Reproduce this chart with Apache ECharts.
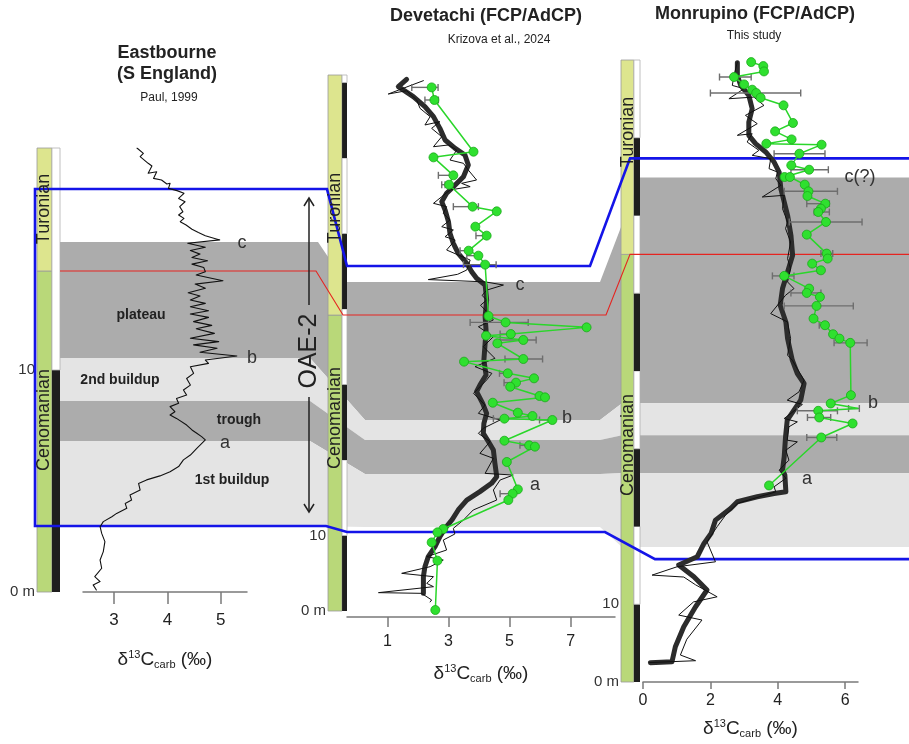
<!DOCTYPE html>
<html><head><meta charset="utf-8">
<script src="https://cdn.jsdelivr.net/npm/echarts@6/dist/echarts.min.js"></script>
<style>html,body{margin:0;padding:0;background:#fff}#c{width:909px;height:744px}</style>
</head><body><div id="c"></div>
<script>
// ================= DATA =================
// [δ13C (‰), height (m)]
const eastbourneCurve = [[3.43,20.0],[3.55,19.76],[3.49,19.61],[3.64,19.31],[3.71,19.19],[3.64,18.86],[3.80,18.93],[3.74,18.63],[3.89,18.56],[3.99,18.38],[4.05,18.41],[4.02,18.18],[4.18,18.08],[4.31,17.96],[4.21,17.73],[4.33,17.58],[4.23,17.36],[4.29,17.13],[4.21,16.98],[4.31,16.83],[4.24,16.68],[4.35,16.53],[4.46,16.34],[4.58,16.19],[4.71,16.05],[4.98,15.86],[4.38,15.71],[4.71,15.53],[4.43,15.38],[4.61,15.22],[4.46,15.07],[4.75,14.92],[4.46,14.77],[4.68,14.62],[4.71,14.43],[4.54,14.28],[5.04,14.02],[4.52,13.87],[4.71,13.68],[4.39,13.48],[4.61,13.33],[4.43,13.15],[4.71,13.0],[4.43,12.85],[4.77,12.67],[4.43,12.52],[4.77,12.37],[4.49,12.18],[4.83,12.01],[4.54,11.86],[4.88,11.65],[4.43,11.43],[4.96,11.28],[4.49,11.13],[4.93,10.98],[4.61,10.8],[5.30,10.63],[4.71,10.45],[4.77,10.3],[4.43,10.15],[4.49,9.85],[4.36,9.62],[4.43,9.32],[4.30,9.10],[4.36,8.87],[4.17,8.72],[4.21,8.50],[4.05,8.35],[4.14,8.12],[4.05,7.97],[4.17,7.82],[4.36,7.52],[4.46,7.30],[4.55,7.15],[4.64,7.00],[4.71,6.85],[4.55,6.47],[4.43,6.17],[4.30,5.95],[4.21,5.65],[4.05,5.42],[3.86,5.23],[3.61,5.05],[3.46,4.89],[3.49,4.59],[3.30,4.37],[3.33,4.14],[3.21,3.99],[3.24,3.77],[3.05,3.54],[2.96,3.39],[2.80,3.17],[2.74,2.94],[2.77,2.64],[2.83,2.27],[2.80,1.82],[2.74,1.44],[2.77,1.07],[2.64,0.69],[2.74,0.47],[2.61,0.32],[2.67,0.09]];

const devetachiRaw = [[2.18,70.25],[1.80,69.67],[1.03,68.48],[1.63,68.92],[1.96,67.69],[2.07,66.58],[2.40,65.48],[2.23,64.38],[2.72,64.82],[2.45,63.93],[2.78,62.83],[2.51,61.50],[3.00,61.73],[3.27,61.06],[3.05,59.74],[3.49,59.30],[3.65,58.41],[3.92,57.09],[3.43,56.65],[3.71,56.21],[3.05,55.77],[2.78,54.88],[2.51,54.00],[2.94,53.56],[2.83,52.67],[3.05,51.79],[2.78,50.91],[3.16,50.47],[2.89,49.58],[3.22,49.14],[2.94,47.82],[3.32,47.16],[3.71,46.49],[3.60,45.17],[3.30,44.6],[2.34,43.9],[4.20,43.6],[4.80,43.18],[4.25,42.5],[4.10,41.8],[4.25,41.2],[4.05,40.5],[4.20,39.87],[4.47,38.55],[3.98,37.66],[4.47,36.34],[4.14,35.01],[4.52,33.47],[3.87,32.37],[4.42,31.48],[4.25,30.60],[3.82,28.83],[4.20,27.28],[3.98,26.18],[4.69,25.30],[4.14,24.20],[3.98,23.53],[4.36,22.43],[4.03,20.88],[4.47,20.22],[4.20,18.23],[5.12,18.01],[4.69,17.35],[4.47,16.03],[4.58,14.70],[3.81,13.38],[3.49,12.05],[3.16,10.95],[3.21,10.20],[2.83,9.40],[2.94,8.08],[2.29,7.20],[2.83,6.75],[2.40,5.87],[1.47,4.99],[2.51,4.55],[2.29,3.66],[2.51,3.22],[0.71,2.43],[2.12,2.34],[2.45,1.46],[2.40,1.2]];

const devetachiSmooth = [[1.63,70.42],[1.36,69.45],[1.85,68.13],[2.23,66.8],[2.51,65.48],[2.72,63.93],[2.89,62.39],[3.22,61.28],[3.54,60.4],[3.65,59.08],[3.49,57.53],[3.22,56.43],[2.94,55.33],[2.78,54.22],[2.89,53.12],[3.0,51.57],[3.05,50.03],[3.16,48.7],[3.32,47.37],[3.6,46.05],[3.76,44.95],[3.92,44.07],[4.2,43.18],[4.25,41.2],[4.2,38.99],[4.23,37.22],[4.2,35.45],[4.16,33.25],[4.23,31.26],[4.03,29.93],[3.92,29.05],[4.12,27.5],[4.25,26.18],[4.16,24.86],[4.14,23.53],[4.31,22.43],[4.47,21.32],[4.52,19.56],[4.58,17.79],[4.41,16.91],[4.03,15.81],[3.6,14.7],[3.32,13.38],[3.11,12.05],[2.89,10.95],[2.72,9.85],[2.56,8.52],[2.34,7.2],[2.23,5.87],[2.18,4.55],[2.18,2.34]];

const devetachiGreen = [[2.45,69.36],[2.54,67.69],[3.82,60.84],[2.51,60.09],[3.16,57.71],[3.02,56.47],[3.79,53.56],[4.58,52.94],[3.88,50.91],[4.25,49.72],[3.66,47.73],[3.98,47.07],[4.20,45.88],[4.31,39.08],[4.87,38.23],[7.52,37.57],[5.04,36.69],[4.23,36.47],[5.45,35.90],[4.60,35.46],[5.45,33.38],[3.51,33.03],[4.94,31.48],[5.80,30.82],[5.21,30.25],[5.02,29.71],[5.98,28.48],[6.16,28.30],[4.45,27.59],[5.27,26.27],[5.75,25.83],[4.83,25.48],[6.40,25.30],[4.83,22.56],[5.64,21.94],[5.83,21.77],[4.91,19.74],[5.27,16.11],[5.10,15.54],[4.96,14.70],[2.83,10.86],[2.64,10.42],[2.45,9.09],[2.64,6.67],[2.57,0.13]];

// [low, high, height]
const devetachiGreenErr = [[1.80,2.66,69.36],[2.23,2.67,67.69],[2.67,3.22,57.71],[2.78,2.89,56.47],[3.16,3.98,53.56],[3.90,4.25,49.72],[3.38,3.71,47.73],[3.60,3.98,47.07],[3.49,4.56,45.88],[3.71,5.61,38.23],[4.69,5.04,36.69],[4.69,5.87,35.90],[4.85,6.08,33.38],[4.67,4.96,31.48],[4.82,5.23,30.25],[4.47,4.83,25.48],[5.98,6.40,25.30],[5.34,5.64,21.94],[4.69,5.10,15.54]];

const monrupinoRaw = [[2.80,79.73],[2.70,78.02],[2.65,76.73],[3.00,76.31],[2.55,75.02],[3.29,75.23],[3.59,74.16],[3.04,72.88],[3.39,71.81],[2.80,70.31],[3.24,70.52],[3.09,69.45],[3.44,68.38],[3.24,67.74],[3.79,67.31],[3.74,66.02],[3.99,65.59],[3.94,64.74],[4.09,63.88],[3.54,62.38],[4.19,62.60],[4.14,60.88],[4.29,59.17],[4.23,58.31],[4.38,56.60],[4.29,54.45],[4.38,53.17],[4.29,51.45],[4.48,50.60],[4.23,49.74],[3.79,47.38],[4.29,46.31],[4.38,44.17],[4.29,42.03],[4.43,41.39],[4.78,38.82],[4.63,37.32],[4.28,36.25],[4.73,35.70],[4.19,33.89],[4.58,33.46],[4.33,32.82],[4.28,31.10],[4.58,30.89],[4.24,29.82],[4.33,28.53],[4.04,27.25],[4.24,26.20],[3.89,25.11],[3.94,24.46],[2.80,22.96],[2.45,21.47],[2.20,19.97],[1.90,18.04],[2.15,15.46],[1.01,14.82],[0.27,13.75],[1.21,13.50],[1.56,12.50],[2.20,10.96],[1.50,10.30],[1.06,8.61],[1.75,7.97],[1.30,5.50],[1.11,3.47],[1.56,2.74],[0.20,2.50]];

const monrupinoSmooth = [[2.8,79.65],[2.8,78.02],[2.9,76.73],[3.14,75.45],[3.24,73.73],[3.14,72.02],[3.14,70.31],[3.34,69.24],[3.64,68.17],[3.89,66.88],[4.04,65.59],[4.09,63.45],[4.19,61.74],[4.29,60.03],[4.39,57.45],[4.44,54.88],[4.29,52.74],[4.14,50.6],[4.07,48.45],[4.24,46.31],[4.29,44.17],[4.43,41.39],[4.58,39.68],[4.78,38.39],[4.68,36.25],[4.48,34.96],[4.28,33.68],[4.23,31.53],[4.19,28.96],[4.14,27.25],[4.21,26.61],[4.24,24.46],[3.89,24.25],[3.39,23.82],[2.8,23.18],[2.6,22.32],[2.15,20.82],[2.02,19.11],[1.81,17.82],[1.61,16.11],[1.06,15.04],[1.51,13.54],[1.9,11.83],[1.56,9.68],[1.21,7.11],[0.96,4.54],[0.86,2.61],[0.22,2.49]];

const monrupinoGreen = [[3.21,79.73],[3.57,79.22],[3.59,78.53],[2.70,77.81],[3.00,76.86],[3.24,76.18],[3.36,75.75],[3.49,75.15],[4.17,74.17],[4.45,71.90],[3.92,70.82],[4.41,69.79],[3.66,69.24],[5.30,69.11],[4.64,67.95],[4.40,66.45],[4.93,65.89],[4.20,64.95],[4.36,64.95],[4.80,63.97],[4.91,63.11],[4.88,62.51],[5.41,61.52],[5.28,60.88],[5.20,60.45],[5.43,59.17],[4.86,57.54],[5.45,55.10],[5.48,54.46],[5.02,53.81],[5.28,52.95],[4.19,52.23],[4.93,50.60],[4.86,50.04],[5.25,49.53],[5.15,48.37],[5.06,46.74],[5.40,45.89],[5.64,44.73],[5.83,44.17],[6.15,43.62],[6.17,36.89],[5.57,35.82],[6.39,35.18],[5.20,34.88],[5.23,34.02],[6.22,33.25],[5.29,31.45],[3.74,25.28]];

const monrupinoGreenErr = [[2.27,3.21,77.81],[2.00,4.68,75.75],[3.89,5.40,67.95],[4.39,5.50,65.89],[4.19,5.77,63.11],[4.86,5.53,61.52],[5.08,5.53,60.45],[4.34,6.50,59.17],[5.28,5.63,55.10],[5.18,5.33,52.95],[3.84,4.48,52.23],[4.39,5.28,50.04],[4.19,6.24,48.37],[5.23,5.48,45.89],[5.67,6.65,43.62],[6.10,6.42,35.18],[4.58,5.77,34.88],[4.88,5.57,34.02],[4.86,5.75,31.45]];

// stages [name, base (m), top (m)]
const eastbourneStages = [['Cenomanian',0,14.46],['Turonian',14.46,20]];
const devetachiStages  = [['Cenomanian',0,39.2],['Turonian',39.2,71]];
const monrupinoStages  = [['Cenomanian',0,55.0],['Turonian',55.0,80]];
const sectionThickness = [20, 71, 80];

// x-axis tick labels (‰) and ranges
const eastbourneTicks = [3,4,5];
const devetachiTicks  = [1,3,5,7];
const monrupinoTicks  = [0,2,4,6];
const xRanges = [[2.42,5.49],[-0.32,8.45],[0,6.38]];

// correlation levels: heights (m) at [Eastbourne, Devetachi, Monrupino]
const oaeTop          = [18.15, 45.7, 67.35];
const plateauTop      = [15.77, 43.58, 64.9];
const stageBoundary   = [14.46, 39.2, 55.0];
const plateauBase     = [10.54, 25.3, 35.86];
const buildup2Base    = [8.60, 22.65, 31.75];
const troughBase      = [6.80, 18.15, 26.86];
const buildup1Base    = [2.97, 11.13, 17.35];
const oaeBase         = [2.97, 10.46, 15.81];

// ================= LAYOUT / STYLE =================
const FONT = '"Liberation Sans", Arial, Helvetica, sans-serif';
const TXT = '#222';
const layout = [
  {curve:{left:83, top:148, width:164, height:444}, col:{left:37, width:23}, frac:0.65, offset:0, tickLen:12, labelSize:17, labelMargin:20, nameGap:57, stages:eastbourneStages, ticks:eastbourneTicks},
  {curve:{left:347, top:75, width:268, height:536}, col:{left:328, width:19}, frac:0.74, offset:6, tickLen:10, labelSize:16, labelMargin:17, nameGap:46, stages:devetachiStages, ticks:devetachiTicks},
  {curve:{left:643, top:60, width:215, height:622}, col:{left:621, width:19}, frac:0.68, offset:0, tickLen:7, labelSize:16, labelMargin:11, nameGap:36, stages:monrupinoStages, ticks:monrupinoTicks}
];
const COL_FILL = ['#dde58e', '#b9d879', '#1e1e1e', '#ffffff'];
const COL_STROKE = ['#9a9a9a', '#9a9a9a', '#1e1e1e', '#b0b0b0'];

function columnData(stages, top, frac) {
  const out = [];
  stages.forEach(s => out.push([0, frac, s[1], s[2], s[0] === 'Turonian' ? 0 : 1]));
  for (let d = 0; d < top; d += 10) out.push([frac, 1, d, Math.min(d + 10, top), (d / 10) % 2 === 0 ? 2 : 3]);
  return out;
}
function renderColumn(params, api) {
  const a = api.coord([api.value(0), api.value(3)]);
  const b = api.coord([api.value(1), api.value(2)]);
  const k = api.value(4);
  return {type:'rect', shape:{x:a[0], y:a[1], width:b[0]-a[0], height:b[1]-a[1]},
    style:{fill:COL_FILL[k], stroke:COL_STROKE[k], lineWidth:k === 2 ? 0 : 0.8}};
}
function renderErr(params, api) {
  const lo = api.coord([api.value(0), api.value(2)]);
  const hi = api.coord([api.value(1), api.value(2)]);
  const h = 3.5, st = {stroke:'#6e6e6e', lineWidth:1.4};
  return {type:'group', children:[
    {type:'line', shape:{x1:lo[0], y1:lo[1], x2:hi[0], y2:hi[1]}, style:st},
    {type:'line', shape:{x1:lo[0], y1:lo[1]-h, x2:lo[0], y2:lo[1]+h}, style:st},
    {type:'line', shape:{x1:hi[0], y1:hi[1]-h, x2:hi[0], y2:hi[1]+h}, style:st}
  ]};
}

const axisName = '{n|δ}{s|13}{n|C}{b|carb}{n| (‰)}';
const nameRich = {
  n:{fontSize:19, fontFamily:FONT, color:TXT},
  s:{fontSize:11, fontFamily:FONT, color:TXT, padding:[0,0,11,0]},
  b:{fontSize:11, fontFamily:FONT, color:TXT, padding:[9,0,0,0]}
};

const grids = [], xAxes = [], yAxes = [], series = [];
layout.forEach((s, i) => {
  const top = sectionThickness[i];
  grids.push({left:s.curve.left, top:s.curve.top, width:s.curve.width, height:s.curve.height});
  grids.push({left:s.col.left, top:s.curve.top, width:s.col.width, height:s.curve.height});
  xAxes.push({gridIndex:2*i, type:'value', min:xRanges[i][0], max:xRanges[i][1], position:'bottom', offset:s.offset,
    axisLine:{show:true, onZero:false, lineStyle:{color:'#7a7a7a', width:1.5}},
    axisTick:{show:true, customValues:s.ticks, length:s.tickLen, lineStyle:{color:'#7a7a7a', width:1.5}},
    axisLabel:{show:true, customValues:s.ticks, fontSize:s.labelSize, color:TXT, fontFamily:FONT, margin:s.labelMargin},
    splitLine:{show:false},
    name:axisName, nameLocation:'middle', nameGap:s.nameGap, nameTextStyle:{fontFamily:FONT, color:TXT, fontSize:19, rich:nameRich}});
  xAxes.push({gridIndex:2*i+1, type:'value', min:0, max:1, show:false});
  yAxes.push({gridIndex:2*i, type:'value', min:0, max:top, show:false});
  yAxes.push({gridIndex:2*i+1, type:'value', min:0, max:top, interval:10,
    axisLine:{show:false}, axisTick:{show:false}, splitLine:{show:false},
    axisLabel:{show:true, fontSize:15, color:'#333', fontFamily:FONT, margin:2,
      formatter:v => v === 0 ? '0 m' : (v === 10 ? '10' : '')}});
  series.push({type:'custom', xAxisIndex:2*i+1, yAxisIndex:2*i+1, z:3, renderItem:renderColumn,
    data:columnData(s.stages, top, s.frac), silent:true});
});

function lineSeries(i, data, color, width, z) {
  return {type:'line', xAxisIndex:2*i, yAxisIndex:2*i, data, z, symbol:'none', showSymbol:false,
    lineStyle:{color, width, join:'round', cap:'round'}, silent:true};
}
series.push(lineSeries(0, eastbourneCurve, '#111', 1.1, 8));
series.push(lineSeries(1, devetachiSmooth, '#2c2c2c', 5, 6));
series.push(lineSeries(1, devetachiRaw, '#111', 1, 8));
series.push(lineSeries(2, monrupinoSmooth, '#2c2c2c', 5, 6));
series.push(lineSeries(2, monrupinoRaw, '#111', 1, 8));
[[1, devetachiGreenErr, devetachiGreen],[2, monrupinoGreenErr, monrupinoGreen]].forEach(([i, err, pts]) => {
  series.push({type:'custom', xAxisIndex:2*i, yAxisIndex:2*i, z:9, renderItem:renderErr, data:err, silent:true});
  series.push({type:'line', xAxisIndex:2*i, yAxisIndex:2*i, data:pts, z:10, symbol:'circle', symbolSize:9,
    itemStyle:{color:'#2fe02f', borderColor:'#1aa81a', borderWidth:0.8},
    lineStyle:{color:'#2ad62a', width:1.5}, silent:true});
});

const chart = echarts.init(document.getElementById('c'), null, {renderer:'canvas', width:909, height:744});
chart.setOption({animation:false, backgroundColor:'#fff', textStyle:{fontFamily:FONT},
  grid:grids, xAxis:xAxes, yAxis:yAxes, series});

// ---------- correlation overlay (depths converted through the y axes) ----------
const py = (i, d) => chart.convertToPixel({yAxisIndex:2*i}, d);
const X0 = layout[0].col.left + layout[0].col.width;   // band start (right of Eastbourne column)
const XB = layout[0].col.left - 2;                     // blue frame left edge
const XR = 909;
const TR_TOP = [[318,345],[600,640]];
const TR_LOW = [[310,365],[600,622]];
const TR_RED = [[316,343],[606,630]];
const TR_BLUE_T = [[327,347],[590,630]];
const TR_BLUE_B = [[326,347],[605,655]];
function path(depths, tr, x0) {
  const yE = py(0, depths[0]), yD = py(1, depths[1]), yM = py(2, depths[2]);
  return [[x0, yE],[tr[0][0], yE],[tr[0][1], yD],[tr[1][0], yD],[tr[1][1], yM],[XR, yM]];
}
function band(topD, topTr, botD, botTr, fill) {
  const t = path(topD, topTr, X0), b = path(botD, botTr, X0);
  return {type:'polygon', z:1, silent:true, shape:{points:t.concat(b.slice().reverse())}, style:{fill}};
}
const DARK = '#acacac', LIGHT = '#e4e4e4';
const g = [];
g.push(band(plateauTop, TR_TOP, plateauBase, TR_LOW, DARK));
g.push(band(plateauBase, TR_LOW, buildup2Base, TR_LOW, LIGHT));
g.push(band(buildup2Base, TR_LOW, troughBase, TR_LOW, DARK));
g.push(band(troughBase, TR_LOW, buildup1Base, TR_LOW, LIGHT));
g.push({type:'polyline', z:4, silent:true, shape:{points:path(stageBoundary, TR_RED, X0)}, style:{stroke:'#e52420', lineWidth:1.1, fill:null}});
const bt = path(oaeTop, TR_BLUE_T, XB), bb = path(oaeBase, TR_BLUE_B, XB);
g.push({type:'polyline', z:4, silent:true, shape:{points:bt.slice().reverse().concat(bb)}, style:{stroke:'#1414e8', lineWidth:2.6, fill:null, lineJoin:'miter'}});

function txt(text, x, y, size, opts) {
  opts = opts || {};
  return {type:'text', x, y, z:12, rotation:opts.rot || 0, silent:true,
    style:{text, fontSize:size, fontFamily:FONT, fontWeight:opts.bold ? 'bold' : 'normal', fill:opts.color || TXT, align:'center', verticalAlign:'middle'}};
}
// titles
g.push(txt('Eastbourne', 167, 53, 18, {bold:true}));
g.push(txt('(S England)', 167, 74, 18, {bold:true}));
g.push(txt('Paul, 1999', 169, 98, 12));
g.push(txt('Devetachi (FCP/AdCP)', 486, 16, 18, {bold:true}));
g.push(txt('Krizova et al., 2024', 499, 40, 12));
g.push(txt('Monrupino (FCP/AdCP)', 755, 14, 18, {bold:true}));
g.push(txt('This study', 754, 36, 12));
// stage names in columns
const R = Math.PI / 2;
g.push(txt('Turonian', 44.5, 209, 18, {rot:R}));
g.push(txt('Cenomanian', 44.5, 420, 18, {rot:R}));
g.push(txt('Turonian', 335, 208, 18, {rot:R}));
g.push(txt('Cenomanian', 335, 418, 18, {rot:R}));
g.push(txt('Turonian', 628, 132, 18, {rot:R}));
g.push(txt('Cenomanian', 628, 445, 18, {rot:R}));
// interval names
g.push(txt('plateau', 141, 315, 14, {bold:true}));
g.push(txt('2nd buildup', 120, 380, 14, {bold:true}));
g.push(txt('trough', 239, 420, 14, {bold:true}));
g.push(txt('1st buildup', 232, 480, 14, {bold:true}));
// peak letters
[['c',242,243],['b',252,358],['a',225,443],['c',520,285],['b',567,418],['a',535,485],['c(?)',860,177],['b',873,403],['a',807,479]]
  .forEach(p => g.push(txt(p[0], p[1], p[2], 18, {color:'#333'})));
// OAE-2 with arrows
g.push(txt('OAE-2', 309, 351, 25, {rot:R}));
const ast = {stroke:'#222', lineWidth:1.5, fill:null};
g.push({type:'line', z:12, shape:{x1:309, y1:198, x2:309, y2:305}, style:ast});
g.push({type:'line', z:12, shape:{x1:309, y1:397, x2:309, y2:512}, style:ast});
g.push({type:'polyline', z:12, shape:{points:[[304,206],[309,198],[314,206]]}, style:ast});
g.push({type:'polyline', z:12, shape:{points:[[304,504],[309,512],[314,504]]}, style:ast});

chart.setOption({graphic:{elements:g}});
</script></body></html>
